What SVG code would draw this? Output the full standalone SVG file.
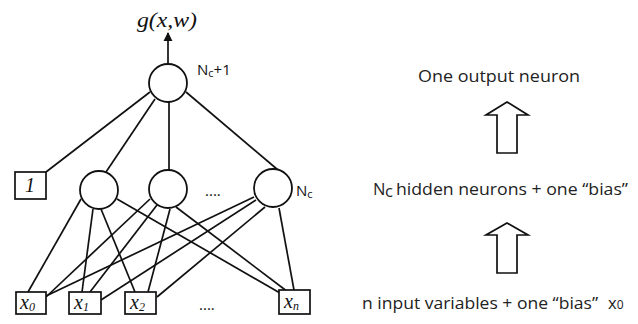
<svg xmlns="http://www.w3.org/2000/svg" width="638" height="324" viewBox="0 0 638 324">
<style>
.ln{stroke:#111;stroke-width:1.7;fill:none}
.nd{stroke:#111;stroke-width:1.8;fill:#fff}
.bx{stroke:#111;stroke-width:1.7;fill:#fff}
.it{font-family:"Liberation Serif",serif;font-style:italic;font-size:20px;fill:#111}
.sb{font-family:"Open Sans","Liberation Sans",sans-serif;font-size:15px;fill:#111}
.rt{font-family:"Open Sans","Liberation Sans",sans-serif;font-size:16.5px;fill:#222}
.ha{stroke:#111;stroke-width:1.7;fill:#fff;stroke-linejoin:miter}
</style>
<defs>
<marker id="ah" viewBox="0 0 10 10" refX="9" refY="5" markerWidth="5.5" markerHeight="5.5" orient="auto-start-reverse" markerUnits="strokeWidth">
<path d="M0,0 L10,5 L0,10 z" fill="#111"/>
</marker>
</defs>
<rect width="638" height="324" fill="#fff"/>
<g id="connectors">
<line class="ln" x1="168" y1="64" x2="168" y2="33" stroke-width="2.2" marker-end="url(#ah)"/>
<line class="ln" x1="150" y1="92" x2="46" y2="172"/>
<line class="ln" x1="155" y1="99" x2="106" y2="172"/>
<line class="ln" x1="169" y1="102" x2="169" y2="170"/>
<line class="ln" x1="186" y1="92" x2="278" y2="170"/>
<line class="ln" x1="81" y1="199" x2="28" y2="292"/>
<line class="ln" x1="93" y1="209" x2="82" y2="292"/>
<line class="ln" x1="101" y1="209" x2="135" y2="292"/>
<line class="ln" x1="117" y1="199" x2="280" y2="293"/>
<line class="ln" x1="150" y1="199" x2="46" y2="297"/>
<line class="ln" x1="157" y1="205" x2="90" y2="292"/>
<line class="ln" x1="170" y1="209" x2="148" y2="292"/>
<line class="ln" x1="176" y1="207" x2="288" y2="292"/>
<line class="ln" x1="254" y1="197" x2="46" y2="296"/>
<line class="ln" x1="256" y1="200" x2="101" y2="300"/>
<line class="ln" x1="265" y1="207" x2="157" y2="297"/>
<line class="ln" x1="279" y1="208" x2="294" y2="290"/>
</g>
<g id="out">
<circle class="nd" cx="168" cy="83" r="19"/>
<text class="it" x="137" y="27" font-size="21" textLength="60" lengthAdjust="spacingAndGlyphs">g(x,w)</text>
<text class="sb" x="197" y="75">N<tspan font-size="11" dy="2">c</tspan><tspan dy="-2">+1</tspan></text>
</g>
<g id="bias1">
<rect class="bx" x="15" y="172" width="31" height="27"/>
<text class="it" x="25" y="192" font-size="17">1</text>
</g>
<g id="h1"><circle class="nd" cx="99" cy="190" r="19"/></g>
<g id="h2"><circle class="nd" cx="168" cy="189" r="19"/></g>
<g id="hdots"><text class="sb" x="205" y="196" font-size="13">....</text></g>
<g id="h3">
<circle class="nd" cx="273" cy="188" r="19"/>
<text class="sb" x="296" y="196">N<tspan font-size="11" dy="2">c</tspan></text>
</g>
<g id="x0">
<rect class="bx" x="16" y="292" width="30" height="22"/>
<text class="it" x="20" y="309">x<tspan font-size="12" dy="2">0</tspan></text>
</g>
<g id="x1">
<rect class="bx" x="69" y="292" width="32" height="22"/>
<text class="it" x="74" y="309">x<tspan font-size="12" dy="2">1</tspan></text>
</g>
<g id="x2">
<rect class="bx" x="125" y="292" width="31" height="22"/>
<text class="it" x="130" y="309">x<tspan font-size="12" dy="2">2</tspan></text>
</g>
<g id="xdots"><text class="sb" x="199" y="310" font-size="14">....</text></g>
<g id="xn">
<rect class="bx" x="279" y="290" width="31" height="24"/>
<text class="it" x="284" y="308">x<tspan font-size="12" dy="2">n</tspan></text>
</g>
<g id="legend">
<text class="rt" x="418" y="82" textLength="162" lengthAdjust="spacingAndGlyphs">One output neuron</text>
<path class="ha" d="M507,102 L528,115 L517,115 L517,153 L497,153 L497,115 L486,115 Z"/>
<text class="rt" x="373" y="195">N</text>
<text class="rt" x="385" y="197" font-size="11">c</text>
<text class="rt" x="396" y="195" textLength="232" lengthAdjust="spacingAndGlyphs">hidden neurons + one “bias”</text>
<path class="ha" d="M507,223 L528,235 L517,235 L517,273 L497,273 L497,235 L486,235 Z"/>
<text class="rt" x="362" y="309" textLength="236" lengthAdjust="spacingAndGlyphs">n input variables + one “bias”</text>
<text class="rt" x="608" y="309" font-size="15">x<tspan font-size="12">0</tspan></text>
</g>
</svg>
